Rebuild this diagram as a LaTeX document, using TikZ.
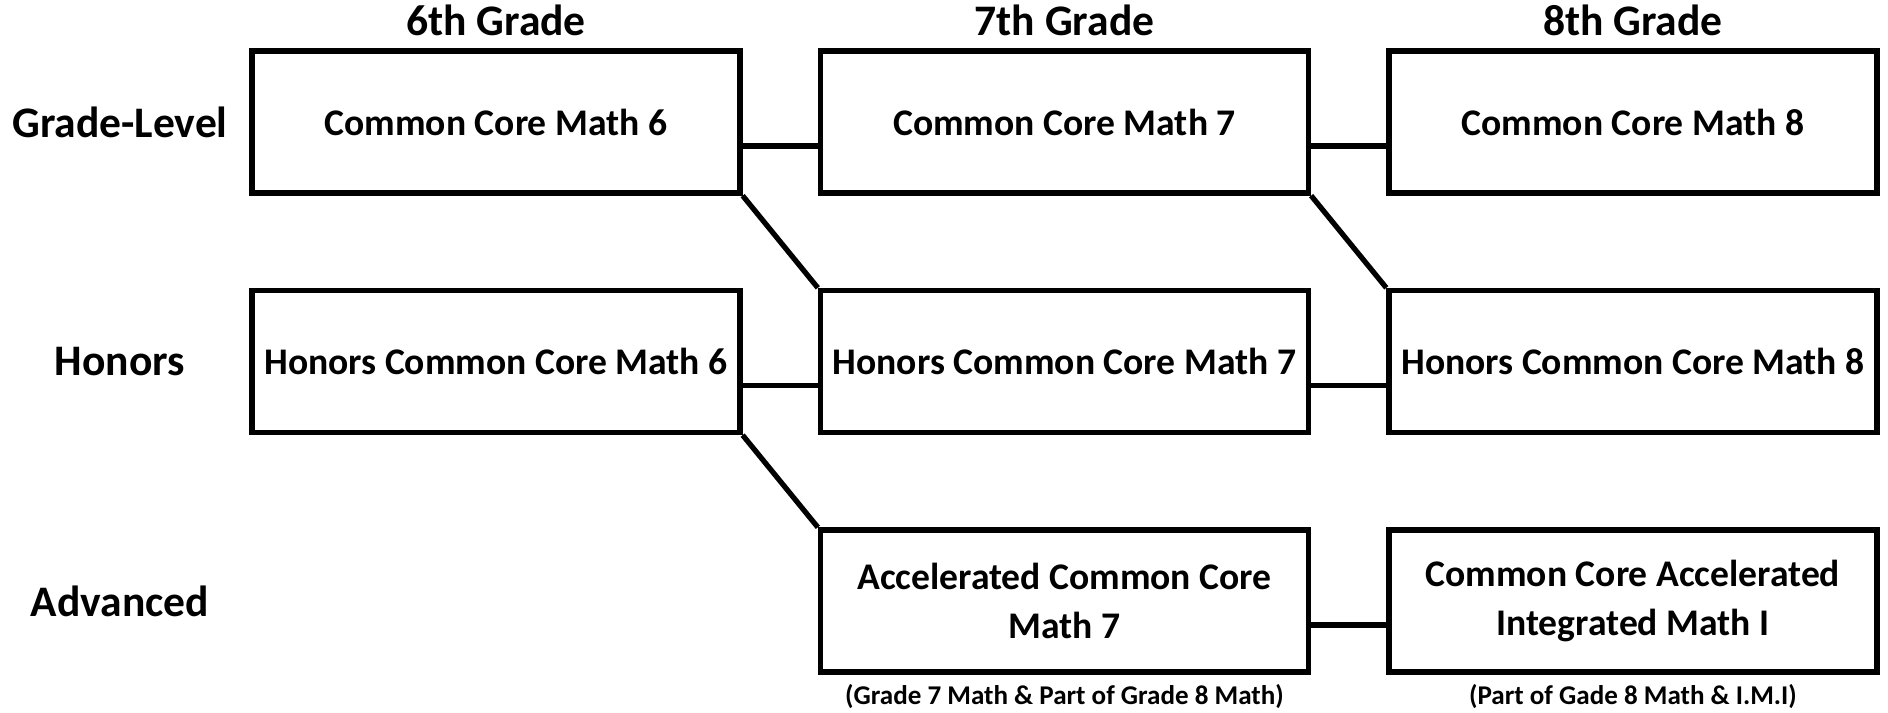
\documentclass[tikz,border=0pt]{standalone}
\usepackage{fontspec}
\setmainfont{Carlito}
\usetikzlibrary{positioning, calc}

\begin{document}
\begin{tikzpicture}[
    node distance=0.922cm and 0.752cm,
    course/.style={draw, rectangle, line width=1.5pt, minimum height=1.42cm,
      minimum width=4.88cm, align=center, font=\bfseries\fontsize{10.7}{14}\selectfont},
    gradehead/.style={font=\bfseries\fontsize{12.4}{14}\selectfont},
    rowlabel/.style={font=\bfseries\fontsize{12.4}{14}\selectfont},
    note/.style={font=\bfseries\fontsize{7.7}{9}\selectfont},
    link/.style={line width=1.5pt}
]
\useasboundingbox (0,0) rectangle (18.88,-7.12);

% courses
\node[course] (cc6) at (4.96,-1.22) {Common Core Math 6};
\node[course, right=of cc6] (cc7) {Common Core Math 7};
\node[course, right=of cc7] (cc8) {Common Core Math 8};
\node[course, below=of cc6] (hon6) {Honors Common Core Math 6};
\node[course, below=of cc7] (hon7) {Honors Common Core Math 7};
\node[course, below=of cc8] (hon8) {Honors Common Core Math 8};
\node[course, below=of hon7] (acc7) {Accelerated Common Core\\Math 7};
\node[course, below=of hon8] (acc8) {Common Core Accelerated\\Integrated Math I};

% headers and row labels
\node[gradehead, above=0pt of cc6] (g6) {6th Grade};
\node[gradehead, above=0pt of cc7] (g7) {7th Grade};
\node[gradehead, above=0pt of cc8] (g8) {8th Grade};
\node[rowlabel] (lvl) at (1.2,0 |- cc6) {Grade-Level};
\node[rowlabel] (hon) at (1.2,0 |- hon6) {Honors};
\node[rowlabel] (adv) at (1.2,0 |- acc7) {Advanced};

% notes
\node[note, below=-0.03cm of acc7] (acc7note) {(Grade 7 Math \& Part of Grade 8 Math)};
\node[note, below=-0.03cm of acc8] (acc8note) {(Part of Gade 8 Math \& I.M.I)};

% links
\draw[link] ([yshift=-0.24cm]cc6.east) -- ([yshift=-0.24cm]cc7.west);
\draw[link] ([yshift=-0.24cm]cc7.east) -- ([yshift=-0.24cm]cc8.west);
\draw[link] ([yshift=-0.24cm]hon6.east) -- ([yshift=-0.24cm]hon7.west);
\draw[link] ([yshift=-0.24cm]hon7.east) -- ([yshift=-0.24cm]hon8.west);
\draw[link] ([yshift=-0.24cm]acc7.east) -- ([yshift=-0.24cm]acc8.west);
\draw[link] (cc6.south east) -- (hon7.north west);
\draw[link] (cc7.south east) -- (hon8.north west);
\draw[link] (hon6.south east) -- (acc7.north west);
\end{tikzpicture}
\end{document}
